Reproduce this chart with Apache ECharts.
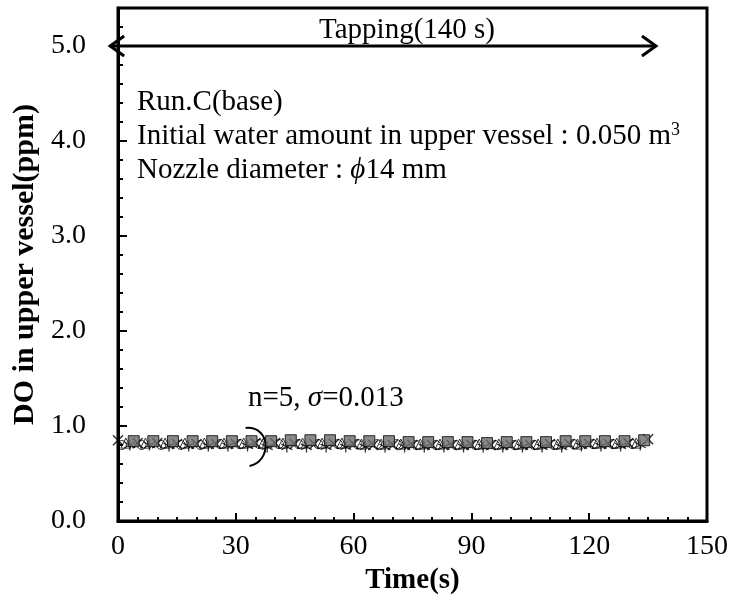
<!DOCTYPE html>
<html>
<head>
<meta charset="utf-8">
<script src="https://cdn.jsdelivr.net/npm/echarts@6/dist/echarts.min.js"></script>
<style>
  html, body { margin: 0; padding: 0; background: #fff; }
  #chart { width: 730px; height: 595px; }
</style>
</head>
<body>
<div id="chart"></div>
<script>
// DO readings in the upper vessel for five repeated runs (Run.C, base case)
const timeCross    = [0, 5, 10, 15, 20, 25, 30, 35, 40, 45, 50, 55, 60, 65, 70, 75, 80, 85, 90, 95, 100, 105, 110, 115, 120, 125, 130, 135];
const doCross      = [0.85, 0.82, 0.82, 0.81, 0.81, 0.81, 0.81, 0.82, 0.82, 0.81, 0.81, 0.81, 0.81, 0.80, 0.80, 0.80, 0.80, 0.80, 0.80, 0.80, 0.80, 0.80, 0.81, 0.81, 0.81, 0.81, 0.82, 0.86];
const timeSquare   = [4, 9, 14, 19, 24, 29, 34, 39, 44, 49, 54, 59, 64, 69, 74, 79, 84, 89, 94, 99, 104, 109, 114, 119, 124, 129, 134];
const doSquare     = [0.84, 0.84, 0.84, 0.84, 0.84, 0.84, 0.84, 0.84, 0.85, 0.85, 0.85, 0.84, 0.84, 0.84, 0.83, 0.83, 0.83, 0.83, 0.82, 0.83, 0.83, 0.83, 0.84, 0.84, 0.84, 0.84, 0.85];
const timeTriangle = [2, 7, 12, 17, 22, 27, 32, 37, 42, 47, 52, 57, 62, 67, 72, 77, 82, 87, 92, 97, 102, 107, 112, 117, 122, 127, 132];
const doTriangle   = [0.82, 0.82, 0.82, 0.82, 0.82, 0.82, 0.82, 0.82, 0.82, 0.82, 0.82, 0.82, 0.81, 0.81, 0.81, 0.81, 0.81, 0.81, 0.81, 0.81, 0.81, 0.81, 0.81, 0.81, 0.82, 0.82, 0.82];
const timeCircle   = [1, 6, 11, 16, 21, 26, 31, 36, 41, 46, 51, 56, 61, 66, 71, 76, 81, 86, 91, 96, 101, 106, 111, 116, 121, 126, 131];
const doCircle     = [0.80, 0.80, 0.80, 0.80, 0.80, 0.81, 0.81, 0.81, 0.81, 0.81, 0.81, 0.81, 0.81, 0.81, 0.81, 0.80, 0.80, 0.80, 0.80, 0.80, 0.80, 0.80, 0.80, 0.81, 0.81, 0.81, 0.81];
const timeStar     = [3, 8, 13, 18, 23, 28, 33, 38, 43, 48, 53, 58, 63, 68, 73, 78, 83, 88, 93, 98, 103, 108, 113, 118, 123, 128, 133];
const doStar       = [0.80, 0.80, 0.79, 0.79, 0.79, 0.79, 0.79, 0.78, 0.78, 0.78, 0.78, 0.78, 0.78, 0.78, 0.78, 0.78, 0.78, 0.78, 0.78, 0.78, 0.78, 0.78, 0.78, 0.79, 0.79, 0.79, 0.80];

const xTicks = [0, 30, 60, 90, 120, 150];
const yTickLabels = ['0.0', '1.0', '2.0', '3.0', '4.0', '5.0'];

const FONT = '"Liberation Serif", "Times New Roman", serif';
const TXT = 29;

function pairs(xs, ys) { return xs.map((x, i) => [x, ys[i]]); }

const crossPath = 'path://M0 0 L10 10 M10 0 L0 10';
const starPath  = 'path://M5 0 L5 10 M0.7 2.5 L9.3 7.5 M9.3 2.5 L0.7 7.5';

const chart = echarts.init(document.getElementById('chart'), null, { renderer: 'canvas' });

const gridBox = { left: 118, right: 23, top: 8, bottom: 74 };

chart.setOption({
  animation: false,
  backgroundColor: '#fff',
  grid: Object.assign({
    show: true, borderColor: '#000', borderWidth: 3, backgroundColor: 'transparent',
    containLabel: false, outerBoundsMode: 'none'
  }, gridBox),
  xAxis: {
    type: 'value', min: xTicks[0], max: xTicks[xTicks.length - 1], interval: 30,
    name: 'Time(s)', nameLocation: 'middle', nameGap: 41,
    nameTextStyle: { fontFamily: FONT, fontWeight: 'bold', fontSize: 29, color: '#000' },
    axisLine: { lineStyle: { color: '#000', width: 3 } },
    axisTick: { inside: true, length: 8, lineStyle: { color: '#000', width: 2 } },
    minorTick: { show: true, splitNumber: 6, length: 4, lineStyle: { color: '#000', width: 2 } },
    splitLine: { show: false },
    axisLabel: { fontFamily: FONT, fontSize: 28, color: '#000', margin: 12 }
  },
  yAxis: [{
    type: 'value', min: 0, max: 5.4, interval: 0.2,
    name: 'DO in upper vessel(ppm)', nameLocation: 'middle', nameGap: 77,
    nameTextStyle: { fontFamily: FONT, fontWeight: 'bold', fontSize: 30, color: '#000' },
    axisLine: { lineStyle: { color: '#000', width: 3 } },
    axisTick: { inside: true, length: 5, lineStyle: { color: '#000', width: 2 } },
    splitLine: { show: false },
    axisLabel: {
      fontFamily: FONT, fontSize: 28, color: '#000', margin: 32,
      formatter: v => {
        const r = Math.round(v);
        return Math.abs(v - r) < 1e-6 && r < yTickLabels.length ? yTickLabels[r] : '';
      }
    }
  }, {
    type: 'value', min: 0, max: 5.4, interval: 1, position: 'left', offset: 0,
    axisLine: { show: false },
    axisTick: { inside: true, length: 9, lineStyle: { color: '#000', width: 2 } },
    axisLabel: { show: false },
    splitLine: { show: false }
  }],
  series: [
    {
      name: 'circle', type: 'scatter', data: pairs(timeCircle, doCircle),
      symbol: 'circle', symbolSize: 9,
      itemStyle: { color: 'rgba(255,255,255,0)', borderColor: '#000', borderWidth: 1 }
    },
    {
      name: 'triangle', type: 'scatter', data: pairs(timeTriangle, doTriangle),
      symbol: 'triangle', symbolSize: 10,
      itemStyle: { color: 'rgba(255,255,255,0)', borderColor: '#000', borderWidth: 1 }
    },
    {
      name: 'star', type: 'scatter', data: pairs(timeStar, doStar),
      symbol: starPath, symbolSize: 11,
      itemStyle: { color: 'none', borderColor: '#000', borderWidth: 1.3 }
    },
    {
      name: 'cross', type: 'scatter', data: pairs(timeCross, doCross),
      symbol: crossPath, symbolSize: 10,
      itemStyle: { color: 'none', borderColor: '#000', borderWidth: 1.5 }
    },
    {
      name: 'square', type: 'scatter', data: pairs(timeSquare, doSquare),
      symbol: 'rect', symbolSize: 11,
      itemStyle: { color: '#6b6b6b', borderColor: '#000', borderWidth: 1 }
    }
  ]
});

// Annotations: tapping span arrow, run description, spread note
function px(x, y) { return chart.convertToPixel({ gridIndex: 0 }, [x, y]); }

const a0 = px(-2, 5.0), a1 = px(137, 5.0);
const head = 14, spread = 10;
const annoText = (x, y, rich, text, align) => ({
  type: 'text', x: x, y: y,
  style: { text: text, rich: rich, fill: '#000', font: TXT + 'px ' + FONT, align: align || 'left', verticalAlign: 'middle' }
});
const richItalic = {
  i: { fontFamily: FONT, fontStyle: 'italic', fontSize: TXT },
  sup: { fontFamily: FONT, fontSize: 18, verticalAlign: 'top', padding: [0, 0, 12, 0] }
};

const b0 = px(32.5, 0.98), b1 = px(33.5, 0.58);
const graphics = [
  { type: 'line', shape: { x1: a0[0], y1: a0[1], x2: a1[0], y2: a1[1] }, style: { stroke: '#000', lineWidth: 3 } },
  { type: 'polyline', shape: { points: [[a0[0] + head, a0[1] - spread], [a0[0], a0[1]], [a0[0] + head, a0[1] + spread]] }, style: { stroke: '#000', lineWidth: 3, fill: null } },
  { type: 'polyline', shape: { points: [[a1[0] - head, a1[1] - spread], [a1[0], a1[1]], [a1[0] - head, a1[1] + spread]] }, style: { stroke: '#000', lineWidth: 3, fill: null } },
  annoText(407, 30, null, 'Tapping(140 s)', 'center'),
  annoText(137, 102, null, 'Run.C(base)'),
  annoText(137, 136, richItalic, 'Initial water amount in upper vessel : 0.050 m{sup|3}'),
  annoText(137, 170, richItalic, 'Nozzle diameter : {i|ϕ}14 mm'),
  annoText(248, 398, richItalic, 'n=5, {i|σ}=0.013'),
  {
    type: 'bezierCurve',
    shape: { x1: b0[0], y1: b0[1], cpx1: b0[0] + 26, cpy1: b0[1] - 2, cpx2: b1[0] + 22, cpy2: b1[1] - 4, x2: b1[0], y2: b1[1] },
    style: { stroke: '#000', lineWidth: 2, fill: null }
  }
];
chart.setOption({ graphic: graphics });
</script>
</body>
</html>
